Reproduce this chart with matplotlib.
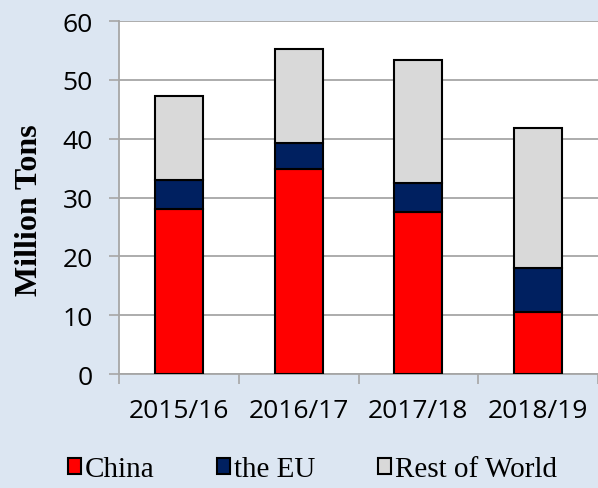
import matplotlib.pyplot as plt
from matplotlib.patches import Patch

years = ['2015/16', '2016/17', '2017/18', '2018/19']
china = [28.0, 34.8, 27.5, 10.5]
eu = [5.0, 4.5, 5.0, 7.6]
rest = [14.2, 15.9, 20.8, 23.8]

series = ['China', 'the EU', 'Rest of World']
colors = ['#ff0000', '#002060', '#d9d9d9']

bg = '#dce6f2'

fig = plt.figure(figsize=(5.98, 4.89), dpi=100, facecolor=bg)
ax = fig.add_axes([0.199, 0.233, 0.801, 0.722])
ax.set_facecolor('white')

x = list(range(len(years)))
bottom = [0.0] * len(years)
for vals, col in zip([china, eu, rest], colors):
    ax.bar(x, vals, width=0.4, bottom=bottom, color=col, edgecolor='black',
           linewidth=1.5, zorder=3)
    bottom = [b + v for b, v in zip(bottom, vals)]

ax.set_xlim(-0.5, len(years) - 0.5)
ax.set_ylim(0, 60)
ax.set_yticks(range(0, 61, 10))
ax.set_xticks([i - 0.5 for i in range(len(years) + 1)], minor=False)
ax.set_xticklabels([])
ax.set_xticks(x, minor=True)
ax.set_xticklabels(years, minor=True, fontsize=19, family='Open Sans')
ax.tick_params(axis='x', which='minor', length=0, pad=17)
ax.tick_params(axis='x', which='major', length=7, color='#a6a6a6', width=1.2)
ax.tick_params(axis='y', length=7, color='#a6a6a6', width=1.2, pad=12,
               labelsize=19)
for lab in ax.get_yticklabels():
    lab.set_family('Open Sans')

ax.yaxis.grid(True, color='#a6a6a6', linewidth=1.3, zorder=0)
for s in ['top', 'right']:
    ax.spines[s].set_visible(False)
ax.spines['left'].set_color('#a6a6a6')
ax.spines['bottom'].set_color('#a6a6a6')
ax.spines['left'].set_linewidth(1.3)
ax.spines['bottom'].set_linewidth(1.3)

ax.set_ylabel('Million Tons', fontsize=23, fontweight='bold',
              family='Liberation Serif')
ax.yaxis.set_label_coords(-0.156, 0.467)

handles = [Patch(facecolor=c, edgecolor='black', linewidth=1.5) for c in colors]
fig.legend(handles, series, loc='center', bbox_to_anchor=(0.522, 0.038),
           ncol=3, frameon=False, handlelength=0.46, handleheight=0.46,
           handletextpad=0.12, columnspacing=2.15,
           prop={'family': 'Liberation Serif', 'size': 21})

fig.savefig('out.png', dpi=100, facecolor=bg)
